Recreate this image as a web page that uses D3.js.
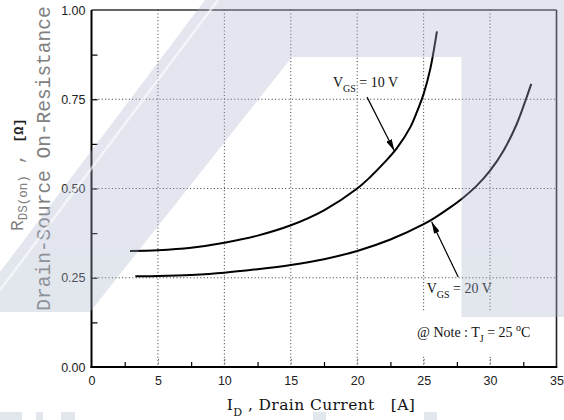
<!DOCTYPE html>
<html>
<head>
<meta charset="utf-8">
<script src="https://cdn.jsdelivr.net/npm/d3@7"></script>
<style>
  html, body { margin: 0; padding: 0; background: #fff; }
  svg { display: block; }
</style>
</head>
<body>
<div id="chart"></div>
<script>
// on-resistance vs drain current
const idVgs10 = [2.9, 5, 7.5, 10, 12.5, 15, 17.5, 20, 21, 22, 23, 24, 24.5, 25, 25.5, 26];
const rdsVgs10 = [0.325, 0.327, 0.334, 0.348, 0.368, 0.397, 0.439, 0.50, 0.533, 0.571, 0.614, 0.672, 0.715, 0.765, 0.835, 0.94];
const idVgs20 = [3.3, 5, 7.5, 10, 12.5, 15, 17.5, 20, 22.5, 25, 26, 27, 28, 29, 30, 31, 32, 32.7, 33.1];
const rdsVgs20 = [0.254, 0.255, 0.258, 0.264, 0.274, 0.286, 0.302, 0.325, 0.357, 0.40, 0.422, 0.447, 0.475, 0.508, 0.55, 0.605, 0.68, 0.75, 0.793];

const xTicks = [0, 5, 10, 15, 20, 25, 30, 35];
const xMinorTicks = [2.5, 7.5, 12.5, 17.5, 22.5, 27.5, 32.5];
const yTicks = [0, 0.25, 0.5, 0.75, 1];
const yMinorTicks = [0.125, 0.375, 0.625, 0.875];

// annotation anchors in data units [I_D, R]
const vgsLabels = ['10', '20'];
const labelAt = [[18.17, 0.784], [25.23, 0.207]];
const arrowFrom = [[20.74, 0.756], [27.6, 0.252]];
const arrowTo = [[22.8, 0.605], [25.6, 0.407]];
const noteAt = [24.5, 0.084];

const svgWidth = 564;
const svgHeight = 420;
const margin = { top: 10, right: 7.5, bottom: 53, left: 91.5 };
const width = svgWidth - margin.left - margin.right;
const height = svgHeight - margin.top - margin.bottom;

const svg = d3.select('#chart')
    .append('svg')
    .attr('width', svgWidth)
    .attr('height', svgHeight);

svg.append('defs').append('marker')
    .attr('id', 'head')
    .attr('markerUnits', 'userSpaceOnUse')
    .attr('viewBox', '0 0 12 6')
    .attr('refX', 12)
    .attr('refY', 3)
    .attr('markerWidth', 12)
    .attr('markerHeight', 6)
    .attr('orient', 'auto')
    .append('path')
    .attr('d', 'M0,0 L12,3 L0,6 Z')
    .attr('fill', '#000');

const g = svg.append('g')
    .attr('transform', `translate(${margin.left}, ${margin.top})`);

const x = d3.scaleLinear().domain([0, 35]).range([0, width]);
const y = d3.scaleLinear().domain([0, 1]).range([height, 0]);

// dotted grid
const gridStyle = sel => sel
    .attr('stroke', '#333')
    .attr('stroke-width', 1)
    .attr('stroke-dasharray', '1,2.4');

g.append('g').selectAll('line')
    .data(xTicks.slice(1, -1))
    .enter().append('line')
    .attr('x1', d => x(d)).attr('x2', d => x(d))
    .attr('y1', 0).attr('y2', height)
    .call(gridStyle);

g.append('g').selectAll('line')
    .data(yTicks.slice(1, -1))
    .enter().append('line')
    .attr('x1', 0).attr('x2', width)
    .attr('y1', d => y(d)).attr('y2', d => y(d))
    .call(gridStyle);

// blank area behind the note (grid stops above it)
g.append('rect')
    .attr('x', x(23.3))
    .attr('y', y(0.155))
    .attr('width', x(35) - x(23.3) - 1)
    .attr('height', y(0.03) - y(0.155))
    .attr('fill', '#fff');

// axes
const xAxis = g.append('g')
    .attr('transform', `translate(0, ${height})`)
    .call(d3.axisBottom(x).tickValues(xTicks).tickSize(0).tickPadding(9).tickFormat(d3.format('d')));
xAxis.select('.domain').remove();
xAxis.selectAll('text')
    .attr('font-family', 'Liberation Sans, Arial, sans-serif')
    .attr('font-size', 12.5)
    .attr('fill', '#222');

g.append('g')
    .attr('transform', `translate(0, ${height})`)
    .call(d3.axisTop(x).tickValues(xMinorTicks).tickSize(5).tickFormat(''))
    .call(a => a.select('.domain').remove())
    .selectAll('line').attr('stroke', '#000').attr('stroke-width', 1.2);

g.append('g')
    .attr('transform', `translate(0, ${height})`)
    .call(d3.axisTop(x).tickValues(xTicks.slice(1, -1)).tickSize(10).tickFormat(''))
    .call(a => a.select('.domain').remove())
    .selectAll('line').call(gridStyle);

const yAxis = g.append('g')
    .call(d3.axisLeft(y).tickValues(yTicks).tickSize(0).tickPadding(6).tickFormat(d3.format('.2f')));
yAxis.select('.domain').remove();
yAxis.selectAll('text')
    .attr('font-family', 'Liberation Sans, Arial, sans-serif')
    .attr('font-size', 12.5)
    .attr('fill', '#222');

g.append('g')
    .call(d3.axisRight(y).tickValues(yMinorTicks.concat(yTicks.slice(1, -1))).tickSize(6).tickFormat(''))
    .call(a => a.select('.domain').remove())
    .selectAll('line').attr('stroke', '#000').attr('stroke-width', 1.2);

// frame
g.append('line').attr('x1', 0).attr('x2', width).attr('y1', 0).attr('y2', 0)
    .attr('stroke', '#333').attr('stroke-width', 1.3);
g.append('line').attr('x1', width).attr('x2', width).attr('y1', 0).attr('y2', height)
    .attr('stroke', '#222').attr('stroke-width', 1.6);
g.append('line').attr('x1', 0).attr('x2', 0).attr('y1', 0).attr('y2', height + 1)
    .attr('stroke', '#000').attr('stroke-width', 2);
g.append('line').attr('x1', -1).attr('x2', width + 0.8).attr('y1', height).attr('y2', height)
    .attr('stroke', '#000').attr('stroke-width', 2);

// curves
const line = d3.line()
    .x(d => x(d[0]))
    .y(d => y(d[1]))
    .curve(d3.curveCatmullRom.alpha(0.5));

[[idVgs10, rdsVgs10], [idVgs20, rdsVgs20]].forEach(([ids, rds]) => {
    g.append('path')
        .datum(ids.map((v, i) => [v, rds[i]]))
        .attr('d', line)
        .attr('fill', 'none')
        .attr('stroke', '#000')
        .attr('stroke-width', 2);
});

// V_GS labels with arrows
const serif = 'Liberation Serif, Times New Roman, serif';
vgsLabels.forEach((v, i) => {
    const t = g.append('text')
        .attr('x', x(labelAt[i][0]))
        .attr('y', y(labelAt[i][1]))
        .attr('font-family', serif)
        .attr('font-size', 14)
        .attr('fill', '#111');
    t.append('tspan').text('V');
    t.append('tspan').attr('font-size', 10).attr('dy', 5).text('GS');
    t.append('tspan').attr('dy', -5).text(` = ${v} V`);

    g.append('line')
        .attr('x1', x(arrowFrom[i][0])).attr('y1', y(arrowFrom[i][1]))
        .attr('x2', x(arrowTo[i][0])).attr('y2', y(arrowTo[i][1]))
        .attr('stroke', '#000')
        .attr('stroke-width', 1.2)
        .attr('marker-end', 'url(#head)');
});

const note = g.append('text')
    .attr('x', x(noteAt[0]))
    .attr('y', y(noteAt[1]))
    .attr('font-family', serif)
    .attr('font-size', 14)
    .attr('fill', '#111');
note.append('tspan').text('@ Note : T');
note.append('tspan').attr('font-size', 10).attr('dy', 5).text('J');
note.append('tspan').attr('dy', -5).text(' = 25 ');
note.append('tspan').attr('font-size', 10).attr('dy', -6).text('o');
note.append('tspan').attr('dy', 6).text('C');

// axis titles
const xTitle = svg.append('text')
    .attr('x', margin.left + width / 2 - 3)
    .attr('y', 410)
    .attr('text-anchor', 'middle')
    .attr('font-family', 'DejaVu Serif, serif')
    .attr('font-size', 15.5)
    .attr('letter-spacing', 0.4)
    .attr('fill', '#111');
xTitle.append('tspan').text('I');
xTitle.append('tspan').attr('font-size', 11).attr('dy', 6).text('D');
xTitle.append('tspan').attr('dy', -6).attr('xml:space', 'preserve').text(' , Drain Current   [A]');

const mono = 'Liberation Mono, Courier New, monospace';
svg.append('text')
    .attr('transform', 'translate(50, 158.5) rotate(-90)')
    .attr('text-anchor', 'middle')
    .attr('font-family', mono)
    .attr('font-size', 19.5)
    .attr('fill', '#808080')
    .text('Drain-Source On-Resistance');

const rTitle = svg.append('text')
    .attr('transform', 'translate(23, 231) rotate(-90)')
    .attr('font-family', mono)
    .attr('font-size', 18)
    .attr('fill', '#808080');
rTitle.append('tspan').text('R');
rTitle.append('tspan').attr('font-size', 12.5).attr('dy', 4).text('DS(on)');
rTitle.append('tspan').attr('dy', -4).attr('xml:space', 'preserve').text(' , ');
rTitle.append('tspan').attr('fill', '#222').attr('font-weight', 'bold').attr('font-size', 13.5).text('[Ω]');

// light watermark laid over the sheet
const mark = svg.append('g')
    .attr('fill', '#aab4ca')
    .attr('opacity', 0.33)
    .style('pointer-events', 'none');
mark.append('path')
    .attr('d', 'M205,0 L564,0 L564,317 L461.5,317 L461.5,57 L292,57 L90,312 L0,312 L0,272 Z');
[[0, 412, 22], [36, 412, 7], [61, 412, 14], [313, 412, 13], [424, 412, 13]].forEach(r => {
    mark.append('rect').attr('x', r[0]).attr('y', r[1]).attr('width', r[2]).attr('height', 8);
});
svg.append('line')
    .attr('x1', 0).attr('y1', 290).attr('x2', 218).attr('y2', 0)
    .attr('stroke', '#fff')
    .attr('stroke-width', 2.5)
    .attr('stroke-opacity', 0.6);
</script>
</body>
</html>
